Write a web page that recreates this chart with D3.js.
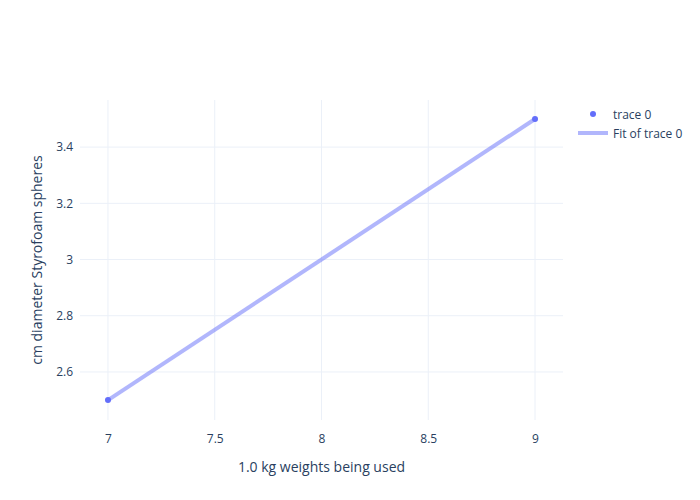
<!DOCTYPE html>
<html>
<head>
<meta charset="utf-8">
<script src="https://cdn.jsdelivr.net/npm/d3@7"></script>
<style>
  body { margin: 0; background: #fff; }
  text { font-family: "Open Sans", sans-serif; fill: #2a3f5f; }
</style>
</head>
<body>
<div id="chart"></div>
<script>
// data
var weights = [7, 9];
var diameters = [2.5, 3.5];
var fitX = [7, 9];
var fitY = [2.5, 3.5];
var xTicks = [7, 7.5, 8, 8.5, 9];
var yTicks = [2.6, 2.8, 3, 3.2, 3.4];

var W = 700, H = 500;
var margin = {top: 100, right: 137, bottom: 80, left: 80},
    width = W - margin.left - margin.right,
    height = H - margin.top - margin.bottom;

var svg = d3.select("#chart")
  .append("svg")
    .attr("width", W)
    .attr("height", H);

var g = svg.append("g")
    .attr("transform", "translate(" + margin.left + "," + margin.top + ")");

var x = d3.scaleLinear()
  .domain([6.869, 9.131])
  .range([0, width]);

var y = d3.scaleLinear()
  .domain([2.429, 3.5676])
  .range([height, 0]);

// grid
g.selectAll(".xgrid")
  .data(xTicks)
  .enter().append("line")
    .attr("x1", function(d) { return x(d); })
    .attr("x2", function(d) { return x(d); })
    .attr("y1", 0).attr("y2", height)
    .attr("stroke", "#ebf0f8").attr("stroke-width", 1);

g.selectAll(".ygrid")
  .data(yTicks)
  .enter().append("line")
    .attr("y1", function(d) { return y(d); })
    .attr("y2", function(d) { return y(d); })
    .attr("x1", 0).attr("x2", width)
    .attr("stroke", "#ebf0f8").attr("stroke-width", 1);

// axes
var xAxis = g.append("g")
  .attr("transform", "translate(0," + height + ")")
  .call(d3.axisBottom(x).tickValues(xTicks).tickSize(0).tickPadding(14).tickFormat(d3.format("")));
xAxis.select(".domain").remove();
xAxis.selectAll("text").style("font-size", "12px").attr("fill", "#2a3f5f");

var yAxis = g.append("g")
  .call(d3.axisLeft(y).tickValues(yTicks).tickSize(0).tickPadding(7).tickFormat(d3.format("")));
yAxis.select(".domain").remove();
yAxis.selectAll("text").style("font-size", "12px").attr("fill", "#2a3f5f");

// axis titles
svg.append("text")
  .attr("x", margin.left + width / 2)
  .attr("y", 472)
  .attr("text-anchor", "middle")
  .style("font-size", "14px")
  .text("1.0 kg weights being used");

svg.append("text")
  .attr("transform", "translate(42," + (margin.top + height / 2) + ")rotate(-90)")
  .attr("text-anchor", "middle")
  .style("font-size", "14px")
  .text("cm diameter Styrofoam spheres");

// fit line
var line = d3.line()
  .x(function(d, i) { return x(fitX[i]); })
  .y(function(d, i) { return y(d); });

g.append("path")
  .datum(fitY)
  .attr("d", line)
  .attr("fill", "none")
  .attr("stroke", "#636efa")
  .attr("stroke-opacity", 0.5)
  .attr("stroke-width", 4);

// points
g.selectAll(".pt")
  .data(diameters)
  .enter().append("circle")
    .attr("cx", function(d, i) { return x(weights[i]); })
    .attr("cy", function(d) { return y(d); })
    .attr("r", 3)
    .attr("fill", "#636efa");

// legend
var leg = svg.append("g").attr("transform", "translate(578,114)");
leg.append("circle").attr("cx", 15).attr("cy", 0).attr("r", 3).attr("fill", "#636efa");
leg.append("text").attr("x", 35).attr("y", 4.5).style("font-size", "12px").text("trace 0");
leg.append("line").attr("x1", 0).attr("x2", 30).attr("y1", 19).attr("y2", 19)
  .attr("stroke", "#636efa").attr("stroke-opacity", 0.5).attr("stroke-width", 4);
leg.append("text").attr("x", 35).attr("y", 23.5).style("font-size", "12px").text("Fit of trace 0");
</script>
</body>
</html>
